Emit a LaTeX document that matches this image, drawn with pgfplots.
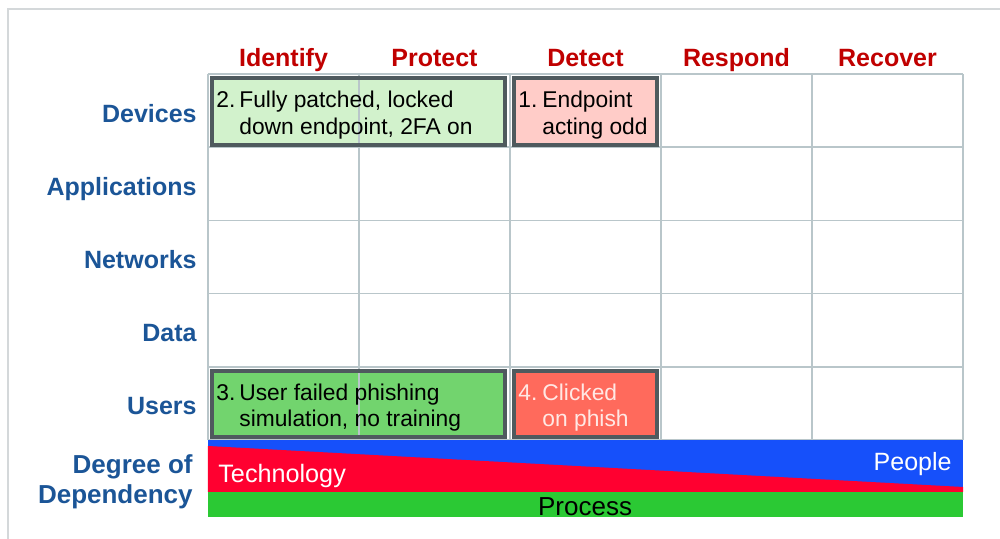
\documentclass[border=0pt]{standalone}
\usepackage{pgfplots}
\pgfplotsset{compat=1.18}
\usepackage{fontspec}
\setmainfont{Liberation Sans}
\definecolor{hdr}{HTML}{C00000}
\definecolor{rowc}{HTML}{1B5597}
\definecolor{gridc}{HTML}{B9C6CA}
\definecolor{frm}{HTML}{D4D8DA}
\definecolor{bord}{HTML}{4F5A5E}
\definecolor{boxA}{HTML}{D2F2CC}
\definecolor{boxB}{HTML}{FFCCC8}
\definecolor{boxC}{HTML}{72D46E}
\definecolor{boxD}{HTML}{FF6A5C}
\definecolor{bandB}{HTML}{1650FA}
\definecolor{bandR}{HTML}{FF0030}
\definecolor{bandG}{HTML}{2BC934}
\definecolor{txtD}{HTML}{FFE8E4}
\newcommand{\hfont}{\fontsize{12.5}{15}\selectfont\bfseries}
\newcommand{\dfont}{\fontsize{13}{15}\selectfont\bfseries}
\newcommand{\bfont}{\fontsize{11.4}{14}\selectfont}
\begin{document}
\begin{tikzpicture}
\useasboundingbox (-104pt,-49.5pt) rectangle (396pt,220pt);
\draw[frm,line width=1pt] (-100pt,-49.5pt) -- (-100pt,215.5pt) -- (396pt,215.5pt);
\begin{axis}[
  at={(0,0)}, anchor=origin,
  x=75.5pt, y=36.6pt,
  xmin=0, xmax=5, ymin=-1.052, ymax=5,
  hide axis, clip=false,
]
% box fills
\addplot[fill=boxA, draw=none] coordinates {(0.026,4.945) (1.967,4.945) (1.967,4.03) (0.026,4.03)} -- cycle;
\addplot[fill=boxB, draw=none] coordinates {(2.026,4.945) (2.974,4.945) (2.974,4.03) (2.026,4.03)} -- cycle;
\addplot[fill=boxC, draw=none] coordinates {(0.026,0.943) (1.967,0.943) (1.967,0.041) (0.026,0.041)} -- cycle;
\addplot[fill=boxD, draw=none] coordinates {(2.026,0.943) (2.974,0.943) (2.974,0.041) (2.026,0.041)} -- cycle;
% grid
\pgfplotsinvokeforeach{0,1,2,3,4,5}{
  \addplot[gridc, line width=0.75pt] coordinates {(#1,0) (#1,5)};
  \addplot[gridc, line width=0.75pt] coordinates {(0,#1) (5,#1)};
}
% box borders
\addplot[draw=bord, line width=1.6pt] coordinates {(0.026,4.945) (1.967,4.945) (1.967,4.03) (0.026,4.03)} -- cycle;
\addplot[draw=bord, line width=1.6pt] coordinates {(2.026,4.945) (2.974,4.945) (2.974,4.03) (2.026,4.03)} -- cycle;
\addplot[draw=bord, line width=1.6pt] coordinates {(0.026,0.943) (1.967,0.943) (1.967,0.041) (0.026,0.041)} -- cycle;
\addplot[draw=bord, line width=1.6pt] coordinates {(2.026,0.943) (2.974,0.943) (2.974,0.041) (2.026,0.041)} -- cycle;
% bands
\addplot[fill=bandB, draw=none] coordinates {(0,0) (5,0) (5,-0.71) (0,-0.71)} -- cycle;
\addplot[fill=bandR, draw=none] coordinates {(0,-0.082) (5,-0.642) (5,-0.71) (0,-0.71)} -- cycle;
\addplot[fill=bandG, draw=none] coordinates {(0,-0.71) (5,-0.71) (5,-1.052) (0,-1.052)} -- cycle;
% headers
\node[anchor=base, text=hdr, font=\hfont, inner sep=0] at (axis cs:0.5,5.096) {Identify};
\node[anchor=base, text=hdr, font=\hfont, inner sep=0] at (axis cs:1.5,5.096) {Protect};
\node[anchor=base, text=hdr, font=\hfont, inner sep=0] at (axis cs:2.5,5.096) {Detect};
\node[anchor=base, text=hdr, font=\hfont, inner sep=0] at (axis cs:3.5,5.096) {Respond};
\node[anchor=base, text=hdr, font=\hfont, inner sep=0] at (axis cs:4.5,5.096) {Recover};
% row labels
\node[anchor=base east, text=rowc, font=\hfont, inner sep=0] at (axis cs:-0.073,4.343) {Devices};
\node[anchor=base east, text=rowc, font=\hfont, inner sep=0] at (axis cs:-0.073,3.343) {Applications};
\node[anchor=base east, text=rowc, font=\hfont, inner sep=0] at (axis cs:-0.073,2.343) {Networks};
\node[anchor=base east, text=rowc, font=\hfont, inner sep=0] at (axis cs:-0.073,1.343) {Data};
\node[anchor=base east, text=rowc, font=\hfont, inner sep=0] at (axis cs:-0.073,0.343) {Users};
\node[anchor=base east, text=rowc, font=\dfont, inner sep=0] at (axis cs:-0.099,-0.451) {Degree of};
\node[anchor=base east, text=rowc, font=\dfont, inner sep=0] at (axis cs:-0.099,-0.874) {Dependency};
% box texts
\node[anchor=base west, font=\bfont, inner sep=0] at (axis cs:0.053,4.549) {2.};
\node[anchor=base west, font=\bfont, inner sep=0] at (axis cs:0.205,4.549) {Fully patched, locked};
\node[anchor=base west, font=\bfont, inner sep=0] at (axis cs:0.205,4.167) {down endpoint, 2FA on};
\node[anchor=base west, font=\bfont, inner sep=0] at (axis cs:2.053,4.549) {1.};
\node[anchor=base west, font=\bfont, inner sep=0] at (axis cs:2.212,4.549) {Endpoint};
\node[anchor=base west, font=\bfont, inner sep=0] at (axis cs:2.212,4.167) {acting odd};
\node[anchor=base west, font=\bfont, inner sep=0] at (axis cs:0.053,0.546) {3.};
\node[anchor=base west, font=\bfont, inner sep=0] at (axis cs:0.205,0.546) {User failed phishing};
\node[anchor=base west, font=\bfont, inner sep=0] at (axis cs:0.205,0.178) {simulation, no training};
\node[anchor=base west, font=\bfont, text=txtD, inner sep=0] at (axis cs:2.053,0.546) {4.};
\node[anchor=base west, font=\bfont, text=txtD, inner sep=0] at (axis cs:2.212,0.546) {Clicked};
\node[anchor=base west, font=\bfont, text=txtD, inner sep=0] at (axis cs:2.212,0.178) {on phish};
% band labels
\node[anchor=base west, font=\fontsize{12.6}{14}\selectfont, text=white, inner sep=0] at (axis cs:0.066,-0.574) {Technology};
\node[anchor=base east, font=\fontsize{12.5}{14}\selectfont, text=white, inner sep=0] at (axis cs:4.927,-0.41) {People};
\node[anchor=base, font=\fontsize{13}{15}\selectfont, inner sep=0] at (axis cs:2.497,-1.025) {Process};
\end{axis}
\end{tikzpicture}
\end{document}
